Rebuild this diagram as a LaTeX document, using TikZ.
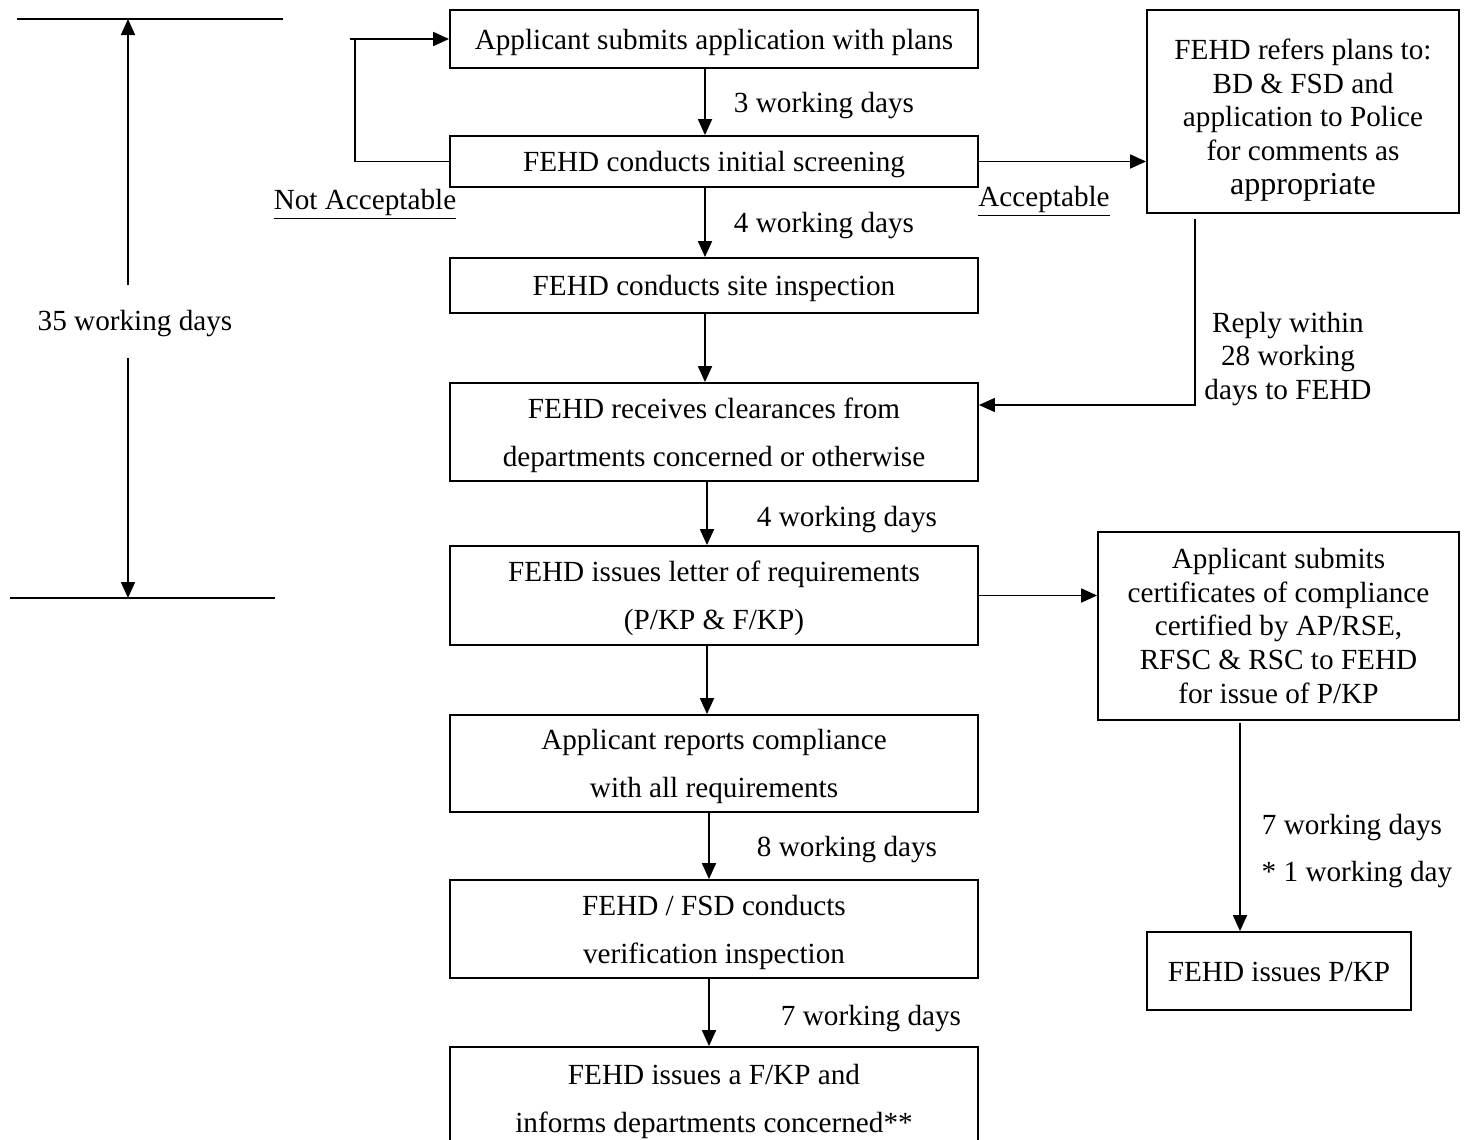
\documentclass[tikz,border=0pt]{standalone}
\usepackage{fontspec}
\setmainfont{Liberation Serif}
\usetikzlibrary{arrows.meta}
\begin{document}
\begin{tikzpicture}[x=0.5pt,y=-0.5pt,
  every node/.style={font=\fontsize{14.6}{16.9}\selectfont},
  box/.style={draw, line width=0.9pt, minimum width=264pt, inner sep=0pt},
  two/.style={font=\fontsize{14.6}{24}\selectfont},
  arr/.style={line width=0.9pt, -{Triangle[length=8pt,width=7pt]}},
  ln/.style={line width=0.9pt},
  lbl/.style={inner sep=0pt, align=center, yshift=-1.5pt}
]
\useasboundingbox (0,0) rectangle (1469,1140);
\clip (0,0) rectangle (1469,1140);

% main column boxes
\node[box, minimum height=29pt] (b1) at (714,39) {};
\node[box, minimum height=25.5pt] (b2) at (714,161.5) {};
\node[box, minimum height=27.5pt] (b3) at (714,285.5) {};
\node[box, minimum height=49pt] (b4) at (714,432) {};
\node[box, minimum height=49.5pt] (b5) at (714,595.5) {};
\node[box, minimum height=48.5pt] (b6) at (714,763.5) {};
\node[box, minimum height=49pt] (b7) at (714,929) {};
\node[box, minimum height=51pt] (b8) at (714,1098) {};

\node[lbl] (t1) at (b1.center) {Applicant submits application with plans};
\node[lbl] (t2) at (b2.center) {FEHD conducts initial screening};
\node[lbl] (t3) at (b3.center) {FEHD conducts site inspection};
\node[lbl, two] (t4) at (b4.center) {FEHD receives clearances from\\departments concerned or otherwise};
\node[lbl, two] (t5) at (b5.center) {FEHD issues letter of requirements\\(P/KP \& F/KP)};
\node[lbl, two] (t6) at (b6.center) {Applicant reports compliance\\with all requirements};
\node[lbl, two] (t7) at (b7.center) {FEHD / FSD conducts\\verification inspection};
\node[lbl, two] (t8) at (b8.center) {FEHD issues a F/KP and\\informs departments concerned**};

% right column
\node[box, minimum width=156pt, minimum height=101.5pt] (r1) at (1303,111.5) {};
\node[lbl] (tr1) at (1303,117) {FEHD refers plans to:\\BD \& FSD and\\application to Police\\for comments as\\{\fontsize{16}{17.5}\selectfont appropriate}};
\node[box, minimum width=180.5pt, minimum height=94pt] (r2) at (1278.5,626) {};
\node[lbl, yshift=1.5pt] (tr2) at (r2.center) {Applicant submits\\certificates of compliance\\certified by AP/RSE,\\RFSC \& RSC to FEHD\\for issue of P/KP};
\node[box, minimum width=132pt, minimum height=39pt] (r3) at (1279,971) {};
\node[lbl, yshift=1pt] (tr3) at (r3.center) {FEHD issues P/KP};

% vertical connectors
\draw[arr] ([xshift=-4.5pt]b1.south) -- ([xshift=-4.5pt]b2.north);
\draw[arr] ([xshift=-4.5pt]b2.south) -- ([xshift=-4.5pt]b3.north);
\draw[arr] ([xshift=-4.5pt]b3.south) -- ([xshift=-4.5pt]b4.north);
\draw[arr] ([xshift=-3.5pt]b4.south) -- ([xshift=-3.5pt]b5.north);
\draw[arr] ([xshift=-3.5pt]b5.south) -- ([xshift=-3.5pt]b6.north);
\draw[arr] ([xshift=-2.5pt]b6.south) -- ([xshift=-2.5pt]b7.north);
\draw[arr] ([xshift=-2.5pt]b7.south) -- ([xshift=-2.5pt]b8.north);

\node[lbl] (l1) at (824,103) {3 working days};
\node[lbl] (l2) at (824,223) {4 working days};
\node[lbl] (l3) at (847,517) {4 working days};
\node[lbl] (l4) at (847,847) {8 working days};
\node[lbl] (l5) at (871,1016) {7 working days};

% not acceptable loop
\coordinate (lpA) at (355,161.5);
\coordinate (lpB) at (355,39);
\coordinate (lpC) at (350,39);
\draw[ln] (b2.west) -- (lpA) -- (lpB);
\draw[arr] (lpC) -- (b1.west);
\node[lbl] (na) at (365,201) {\underline{Not Acceptable}};

% acceptable
\draw[arr] (b2.east) -- (b2.east -| r1.west);
\node[lbl] (ac) at (1044,198) {\underline{Acceptable}};

% reply
\coordinate (r1s) at ([xshift=-54pt,yshift=-2.5pt]r1.south);
\draw[arr] (r1s) |- ([yshift=13.5pt]b4.east);
\node[lbl] (rp) at (1288,356) {Reply within\\28 working\\days to FEHD};

% certificates
\draw[arr] (b5.east) -- (b5.east -| r2.west);
\coordinate (r2s) at ([xshift=-19.25pt,yshift=-1pt]r2.south);
\draw[arr] (r2s) -- (r2s |- r3.north);
\node[lbl] (l6) at (1352,825) {7 working days};
\node[lbl] (l7) at (1357,872) {* 1 working day};

% left 35 working days
\coordinate (tA) at (17,19);
\coordinate (tB) at (283,19);
\coordinate (bA) at (10,598);
\coordinate (bB) at (275,598);
\draw[ln] (tA) -- (tB);
\draw[ln] (bA) -- (bB);
\node[lbl] (d35) at (135,321) {35 working days};
\coordinate (u1) at (128,285);
\coordinate (u2) at (128,358);
\draw[arr] (u1) -- (u1 |- tA);
\draw[arr] (u2) -- (u2 |- bA);
\end{tikzpicture}
\end{document}
